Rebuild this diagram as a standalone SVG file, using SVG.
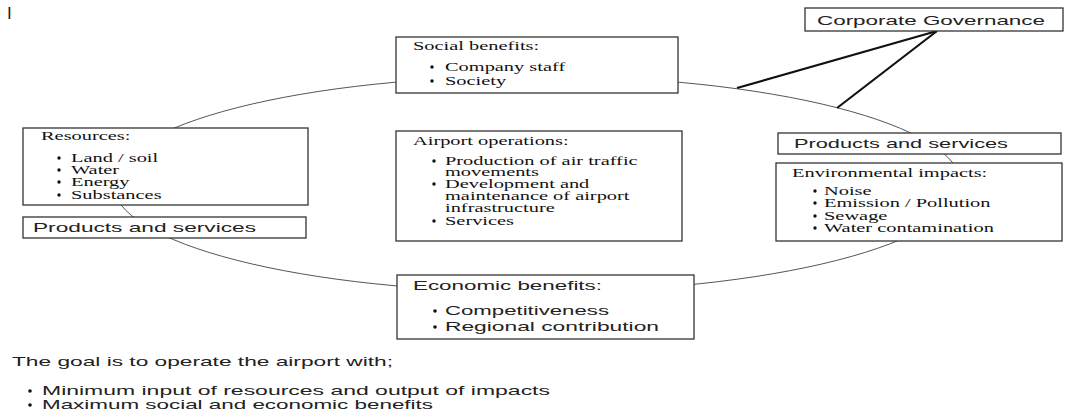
<svg xmlns="http://www.w3.org/2000/svg" width="1078" height="417" viewBox="0 0 1078 417">
<style>
.box{fill:#fff;stroke:#333;stroke-width:1.3}
.ser{font-family:"Liberation Serif","Times New Roman",serif;font-size:12px;fill:#111}
.san{font-family:"Liberation Sans",Arial,sans-serif;font-size:13px;fill:#222}
.dot{fill:#111}
.ring{fill:none;stroke:#555;stroke-width:1}
.gov{stroke:#111;stroke-width:2.2}
</style>
<rect width="1078" height="417" fill="#fff"/>
<text x="7" y="19" class="san" style="font-size:17px">I</text>
<g id="connectors">
  <ellipse class="ring" cx="537" cy="184" rx="424" ry="108"/>
  <line class="gov" x1="937" y1="31" x2="737" y2="88"/>
  <line class="gov" x1="937" y1="31" x2="837" y2="108"/>
</g>
<g id="corporate-governance">
  <rect class="box" x="805" y="8" width="258" height="23"/>
  <text class="san" x="817" y="25" textLength="228" lengthAdjust="spacingAndGlyphs">Corporate Governance</text>
</g>
<g id="social-benefits">
  <rect class="box" x="396" y="37" width="282" height="56"/>
  <text class="ser" transform="matrix(1.7 0 0 1 413 50)">Social benefits:</text>
  <circle class="dot" cx="432" cy="67" r="1.7"/>
  <text class="ser" transform="matrix(1.7 0 0 1 445 71)">Company staff</text>
  <circle class="dot" cx="432" cy="81" r="1.7"/>
  <text class="ser" transform="matrix(1.7 0 0 1 445 85)">Society</text>
</g>
<g id="resources">
  <rect class="box" x="23" y="128" width="285" height="77"/>
  <text class="ser" transform="matrix(1.7 0 0 1 41 140)">Resources:</text>
  <circle class="dot" cx="59" cy="158" r="1.7"/>
  <text class="ser" transform="matrix(1.7 0 0 1 71 162)">Land / soil</text>
  <circle class="dot" cx="59" cy="170" r="1.7"/>
  <text class="ser" transform="matrix(1.7 0 0 1 71 174)">Water</text>
  <circle class="dot" cx="59" cy="182" r="1.7"/>
  <text class="ser" transform="matrix(1.7 0 0 1 71 186)">Energy</text>
  <circle class="dot" cx="59" cy="195" r="1.7"/>
  <text class="ser" transform="matrix(1.7 0 0 1 71 199)">Substances</text>
</g>
<g id="products-left">
  <rect class="box" x="23" y="217" width="283" height="21"/>
  <text class="san" x="33" y="232" textLength="223" lengthAdjust="spacingAndGlyphs">Products and services</text>
</g>
<g id="airport-operations">
  <rect class="box" x="396" y="131" width="286" height="110"/>
  <text class="ser" transform="matrix(1.7 0 0 1 413 145)">Airport operations:</text>
  <circle class="dot" cx="434" cy="161" r="1.7"/>
  <text class="ser" transform="matrix(1.7 0 0 1 445 165)">Production of air traffic</text>
  <text class="ser" transform="matrix(1.7 0 0 1 445 176)">movements</text>
  <circle class="dot" cx="434" cy="184" r="1.7"/>
  <text class="ser" transform="matrix(1.7 0 0 1 445 188)">Development and</text>
  <text class="ser" transform="matrix(1.7 0 0 1 445 200)">maintenance of airport</text>
  <text class="ser" transform="matrix(1.7 0 0 1 445 212)">infrastructure</text>
  <circle class="dot" cx="434" cy="221" r="1.7"/>
  <text class="ser" transform="matrix(1.7 0 0 1 445 225)">Services</text>
</g>
<g id="products-right">
  <rect class="box" x="778" y="133" width="283" height="21"/>
  <text class="san" x="794" y="148" textLength="214" lengthAdjust="spacingAndGlyphs">Products and services</text>
</g>
<g id="environmental-impacts">
  <rect class="box" x="776" y="163" width="286" height="78"/>
  <text class="ser" transform="matrix(1.7 0 0 1 792 177)">Environmental impacts:</text>
  <circle class="dot" cx="815" cy="191" r="1.7"/>
  <text class="ser" transform="matrix(1.7 0 0 1 824 195)">Noise</text>
  <circle class="dot" cx="815" cy="203" r="1.7"/>
  <text class="ser" transform="matrix(1.7 0 0 1 824 207)">Emission / Pollution</text>
  <circle class="dot" cx="815" cy="216" r="1.7"/>
  <text class="ser" transform="matrix(1.7 0 0 1 824 220)">Sewage</text>
  <circle class="dot" cx="815" cy="228" r="1.7"/>
  <text class="ser" transform="matrix(1.7 0 0 1 824 232)">Water contamination</text>
</g>
<g id="economic-benefits">
  <rect class="box" x="397" y="275" width="297" height="64"/>
  <text class="san" x="413" y="290" textLength="189" lengthAdjust="spacingAndGlyphs">Economic benefits:</text>
  <circle class="dot" cx="435" cy="311" r="1.8"/>
  <text class="san" x="445" y="315" textLength="164" lengthAdjust="spacingAndGlyphs">Competitiveness</text>
  <circle class="dot" cx="435" cy="327" r="1.8"/>
  <text class="san" x="445" y="331" textLength="214" lengthAdjust="spacingAndGlyphs">Regional contribution</text>
</g>
<g id="goal">
  <text class="san" x="12" y="366" textLength="381" lengthAdjust="spacingAndGlyphs">The goal is to operate the airport with;</text>
  <circle class="dot" cx="30" cy="391" r="1.8"/>
  <text class="san" x="42" y="395" textLength="508" lengthAdjust="spacingAndGlyphs">Minimum input of resources and output of impacts</text>
  <circle class="dot" cx="30" cy="405" r="1.8"/>
  <text class="san" x="42" y="409" textLength="391" lengthAdjust="spacingAndGlyphs">Maximum social and economic benefits</text>
</g>
</svg>
